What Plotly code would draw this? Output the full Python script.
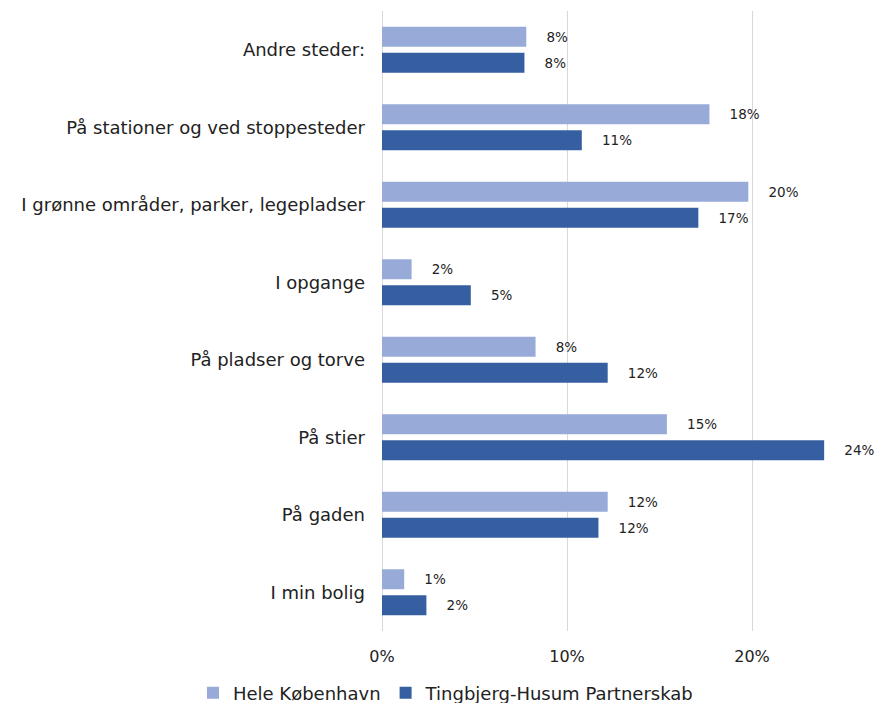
import plotly.graph_objects as go

# ---------------- data ----------------
categories = [
    "Andre steder:",
    "På stationer og ved stoppesteder",
    "I grønne områder, parker, legepladser",
    "I opgange",
    "På pladser og torve",
    "På stier",
    "På gaden",
    "I min bolig",
]
hele_kbh   = [0.078, 0.177, 0.198, 0.016, 0.083, 0.154, 0.122, 0.012]
tingbjerg  = [0.077, 0.108, 0.171, 0.048, 0.122, 0.239, 0.117, 0.024]

FONT = "DejaVu Sans, sans-serif"

fig = go.Figure()
fig.add_trace(go.Bar(
    y=categories, x=hele_kbh, orientation="h", name="Hele København",
    marker=dict(color="#97aad8", line=dict(width=0)),
    texttemplate="    %{x:.0%}", textposition="outside",
    textfont=dict(size=13.5, color="#222"), cliponaxis=False,
))
fig.add_trace(go.Bar(
    y=categories, x=tingbjerg, orientation="h", name="Tingbjerg-Husum Partnerskab",
    marker=dict(color="#365fa1", line=dict(width=0)),
    texttemplate="    %{x:.0%}", textposition="outside",
    textfont=dict(size=13.5, color="#222"), cliponaxis=False,
))

fig.update_layout(
    width=886, height=703,
    barmode="group", bargap=0.33, bargroupgap=0.23,
    plot_bgcolor="white", paper_bgcolor="white",
    font=dict(family=FONT, color="#222", size=16),
    margin=dict(l=382, r=23, t=11, b=72, autoexpand=False),
    xaxis=dict(
        range=[0, 0.26], tickvals=[0, 0.1, 0.2], tickformat=".0%",
        showgrid=True, gridcolor="#d9d9d9", gridwidth=1,
        zeroline=True, zerolinecolor="#d9d9d9", zerolinewidth=1,
        tickfont=dict(size=16), ticks="", ticklabelstandoff=14,
        automargin=False,
    ),
    yaxis=dict(
        autorange="reversed", showgrid=False, ticks="",
        tickfont=dict(size=18), ticklabelstandoff=16,
        automargin=False,
    ),
    # legend sits left of / below the plot area so it may use the full width
    legend=dict(
        orientation="h", x=-0.393, xanchor="left",
        y=-0.1, yanchor="middle",
        font=dict(size=18), itemwidth=30,
    ),
    showlegend=True,
)

# the page body has a default 8px margin; drop it so the figure fills the window
fig.write_html("out.html", config={"displayModeBar": False},
               post_script="document.body.style.margin='0';")
